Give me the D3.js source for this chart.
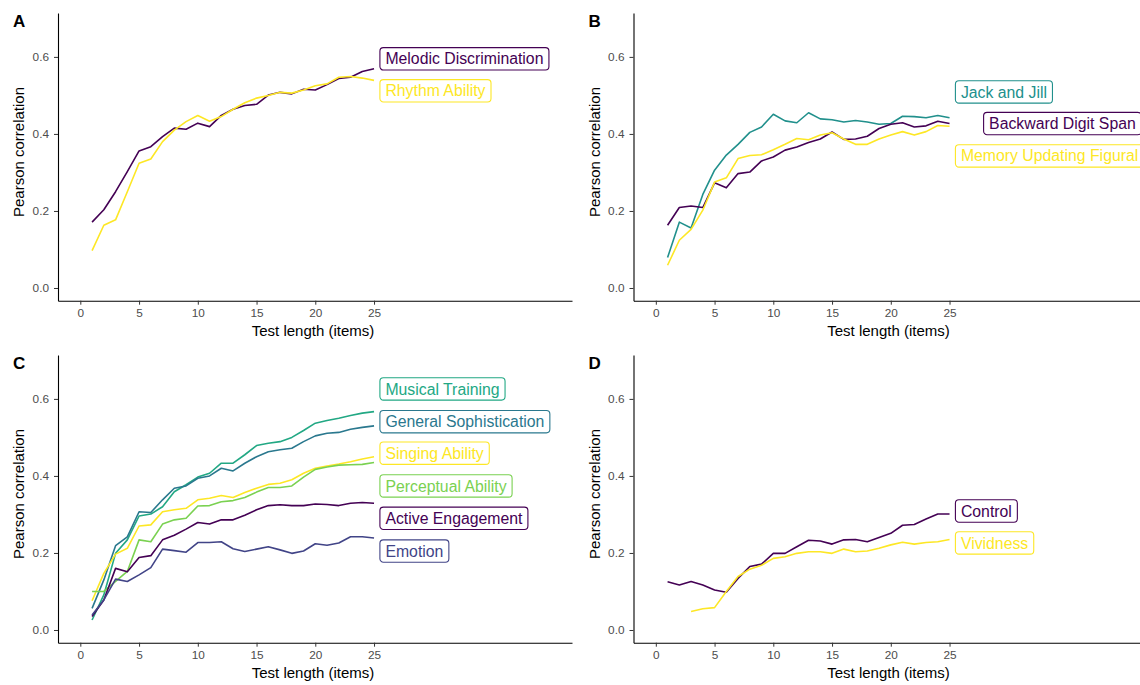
<!DOCTYPE html>
<html lang="en">
<head>
<meta charset="utf-8">
<title>Test length vs Pearson correlation</title>
<script src="https://d3js.org/d3.v7.min.js"></script>
<style>
  body { margin: 0; background: #fff; }
  svg { font-family: "Liberation Sans", Arial, sans-serif; }
  .tick line { stroke: #333; }
  .domain { stroke: #000; }
</style>
</head>
<body>
<script>
// test length in items
var items = d3.range(1, 26);
var xTicks = [0, 5, 10, 15, 20, 25];
var yTicks = [0, 0.2, 0.4, 0.6];

// panel A
var melodicDiscrimination = [0.171, 0.203, 0.250, 0.302, 0.356, 0.367, 0.393, 0.415, 0.412, 0.428, 0.419, 0.448, 0.464, 0.474, 0.477, 0.501, 0.508, 0.504, 0.516, 0.514, 0.528, 0.544, 0.547, 0.562, 0.569];
var rhythmAbility = [0.097, 0.163, 0.177, 0.250, 0.324, 0.335, 0.380, 0.410, 0.432, 0.448, 0.433, 0.445, 0.464, 0.481, 0.493, 0.500, 0.508, 0.506, 0.514, 0.525, 0.530, 0.547, 0.549, 0.545, 0.539];

// panel B
var jackAndJill = [0.079, 0.171, 0.156, 0.243, 0.306, 0.345, 0.373, 0.404, 0.418, 0.451, 0.434, 0.429, 0.455, 0.439, 0.437, 0.431, 0.435, 0.431, 0.425, 0.427, 0.446, 0.445, 0.442, 0.448, 0.442];
var backwardDigitSpan = [0.163, 0.209, 0.213, 0.209, 0.273, 0.260, 0.297, 0.301, 0.330, 0.340, 0.358, 0.366, 0.378, 0.387, 0.405, 0.386, 0.387, 0.394, 0.414, 0.425, 0.429, 0.418, 0.421, 0.433, 0.427];
var memoryUpdatingFigural = [0.059, 0.124, 0.152, 0.202, 0.275, 0.286, 0.336, 0.344, 0.346, 0.359, 0.373, 0.388, 0.385, 0.397, 0.403, 0.387, 0.373, 0.373, 0.387, 0.397, 0.406, 0.397, 0.406, 0.422, 0.420];

// panel C
var musicalTraining = [0.026, 0.091, 0.199, 0.234, 0.296, 0.301, 0.320, 0.359, 0.377, 0.397, 0.407, 0.433, 0.433, 0.455, 0.479, 0.485, 0.489, 0.500, 0.518, 0.537, 0.544, 0.550, 0.557, 0.563, 0.567];
var generalSophistication = [0.056, 0.130, 0.219, 0.242, 0.307, 0.305, 0.338, 0.368, 0.374, 0.394, 0.400, 0.420, 0.413, 0.433, 0.450, 0.463, 0.468, 0.472, 0.489, 0.504, 0.511, 0.513, 0.521, 0.526, 0.530];
var singingAbility = [0.076, 0.147, 0.197, 0.212, 0.270, 0.273, 0.307, 0.312, 0.316, 0.338, 0.342, 0.349, 0.344, 0.357, 0.368, 0.378, 0.381, 0.390, 0.407, 0.420, 0.426, 0.431, 0.437, 0.444, 0.450];
var perceptualAbility = [0.100, 0.100, 0.126, 0.152, 0.234, 0.229, 0.275, 0.286, 0.290, 0.322, 0.323, 0.333, 0.336, 0.344, 0.358, 0.370, 0.370, 0.374, 0.397, 0.417, 0.423, 0.428, 0.429, 0.430, 0.435];
var activeEngagement = [0.035, 0.078, 0.160, 0.151, 0.188, 0.193, 0.234, 0.246, 0.262, 0.279, 0.275, 0.286, 0.286, 0.298, 0.312, 0.323, 0.325, 0.323, 0.323, 0.327, 0.326, 0.323, 0.329, 0.331, 0.329];
var emotion = [0.039, 0.078, 0.132, 0.126, 0.143, 0.162, 0.210, 0.206, 0.202, 0.227, 0.227, 0.229, 0.211, 0.204, 0.210, 0.216, 0.208, 0.199, 0.205, 0.224, 0.220, 0.226, 0.242, 0.242, 0.239];

// panel D (vividness starts at 3 items)
var control = [0.125, 0.117, 0.126, 0.117, 0.104, 0.098, 0.134, 0.165, 0.171, 0.199, 0.199, 0.216, 0.233, 0.231, 0.223, 0.234, 0.235, 0.229, 0.240, 0.251, 0.272, 0.274, 0.288, 0.301, 0.301];
var vividness = [null, null, 0.048, 0.055, 0.058, 0.100, 0.139, 0.158, 0.168, 0.186, 0.190, 0.199, 0.203, 0.203, 0.199, 0.210, 0.203, 0.205, 0.212, 0.221, 0.228, 0.223, 0.227, 0.229, 0.235];

var panels = [
  { letter: "A", ox: 0, oy: 0, series: [
    { name: "Melodic Discrimination", values: melodicDiscrimination, color: "#440154", lx: 25.5, ly: 0.595 },
    { name: "Rhythm Ability", values: rhythmAbility, color: "#FDE725", lx: 25.5, ly: 0.512 }
  ]},
  { letter: "B", ox: 575.5, oy: 0, series: [
    { name: "Jack and Jill", values: jackAndJill, color: "#21908C", lx: 25.5, ly: 0.509 },
    { name: "Backward Digit Span", values: backwardDigitSpan, color: "#440154", lx: 27.9, ly: 0.427 },
    { name: "Memory Updating Figural", values: memoryUpdatingFigural, color: "#FDE725", lx: 25.5, ly: 0.343 }
  ]},
  { letter: "C", ox: 0, oy: 342, series: [
    { name: "Musical Training", values: musicalTraining, color: "#22A884", lx: 25.5, ly: 0.626 },
    { name: "General Sophistication", values: generalSophistication, color: "#2A788E", lx: 25.5, ly: 0.541 },
    { name: "Singing Ability", values: singingAbility, color: "#FDE725", lx: 25.5, ly: 0.459 },
    { name: "Perceptual Ability", values: perceptualAbility, color: "#7AD151", lx: 25.5, ly: 0.374 },
    { name: "Active Engagement", values: activeEngagement, color: "#440154", lx: 25.5, ly: 0.290 },
    { name: "Emotion", values: emotion, color: "#414487", lx: 25.5, ly: 0.205 }
  ]},
  { letter: "D", ox: 575.5, oy: 342, series: [
    { name: "Control", values: control, color: "#440154", lx: 25.5, ly: 0.309 },
    { name: "Vividness", values: vividness, color: "#FDE725", lx: 25.5, ly: 0.226 }
  ]}
];

var width = 1140, height = 685;

var svg = d3.select("body")
  .append("svg")
  .attr("width", width)
  .attr("height", height);

panels.forEach(function (p) {
  var g = svg.append("g").attr("transform", "translate(" + p.ox + "," + p.oy + ")");

  var x = d3.scaleLinear().domain([-1.9, 41.85]).range([58, 572]);
  var y = d3.scaleLinear().domain([-0.033, 0.714]).range([300.7, 13]);

  g.append("g")
    .attr("transform", "translate(58,0)")
    .call(d3.axisLeft(y).tickValues(yTicks).tickFormat(d3.format(".1f")).tickSize(4).tickSizeOuter(0).tickPadding(5))
    .call(function (a) { a.select(".domain").attr("stroke-width", 1.1); });

  g.append("g")
    .attr("transform", "translate(0,300.7)")
    .call(d3.axisBottom(x).tickValues(xTicks).tickSize(4).tickSizeOuter(0).tickPadding(4))
    .call(function (a) { a.select(".domain").attr("stroke-width", 1.1); });

  g.selectAll(".tick text")
    .attr("font-family", null).attr("font-size", null)
    .style("font-size", "11.8px").attr("fill", "#4d4d4d");

  g.append("text")
    .attr("x", 13).attr("y", 27)
    .style("font-size", "17px").style("font-weight", "bold")
    .text(p.letter);

  g.append("text")
    .attr("transform", "translate(24,152) rotate(-90)")
    .attr("text-anchor", "middle")
    .style("font-size", "15px")
    .text("Pearson correlation");

  g.append("text")
    .attr("x", 313).attr("y", 336)
    .attr("text-anchor", "middle")
    .style("font-size", "15px")
    .text("Test length (items)");

  var line = d3.line()
    .defined(function (d) { return d != null; })
    .x(function (d, i) { return x(items[i]); })
    .y(function (d) { return y(d); });

  p.series.forEach(function (s) {
    g.append("path")
      .datum(s.values)
      .attr("fill", "none")
      .attr("stroke", s.color)
      .attr("stroke-width", 1.6)
      .attr("stroke-linejoin", "round")
      .attr("d", line);
  });

  // labels at the right end of each line
  p.series.forEach(function (s) {
    var lg = g.append("g").attr("transform", "translate(" + x(s.lx) + "," + y(s.ly) + ")");
    var rect = lg.append("rect");
    var t = lg.append("text")
      .attr("x", 5.5).attr("y", 5.6)
      .style("font-size", "15.8px")
      .attr("fill", s.color)
      .text(s.name);
    var w = t.node().getComputedTextLength();
    rect.attr("x", 0).attr("y", -11.2)
      .attr("width", w + 11).attr("height", 22.4)
      .attr("rx", 3.5).attr("ry", 3.5)
      .attr("fill", "#fff")
      .attr("stroke", s.color)
      .attr("stroke-width", 1.1);
  });
});
</script>
</body>
</html>
